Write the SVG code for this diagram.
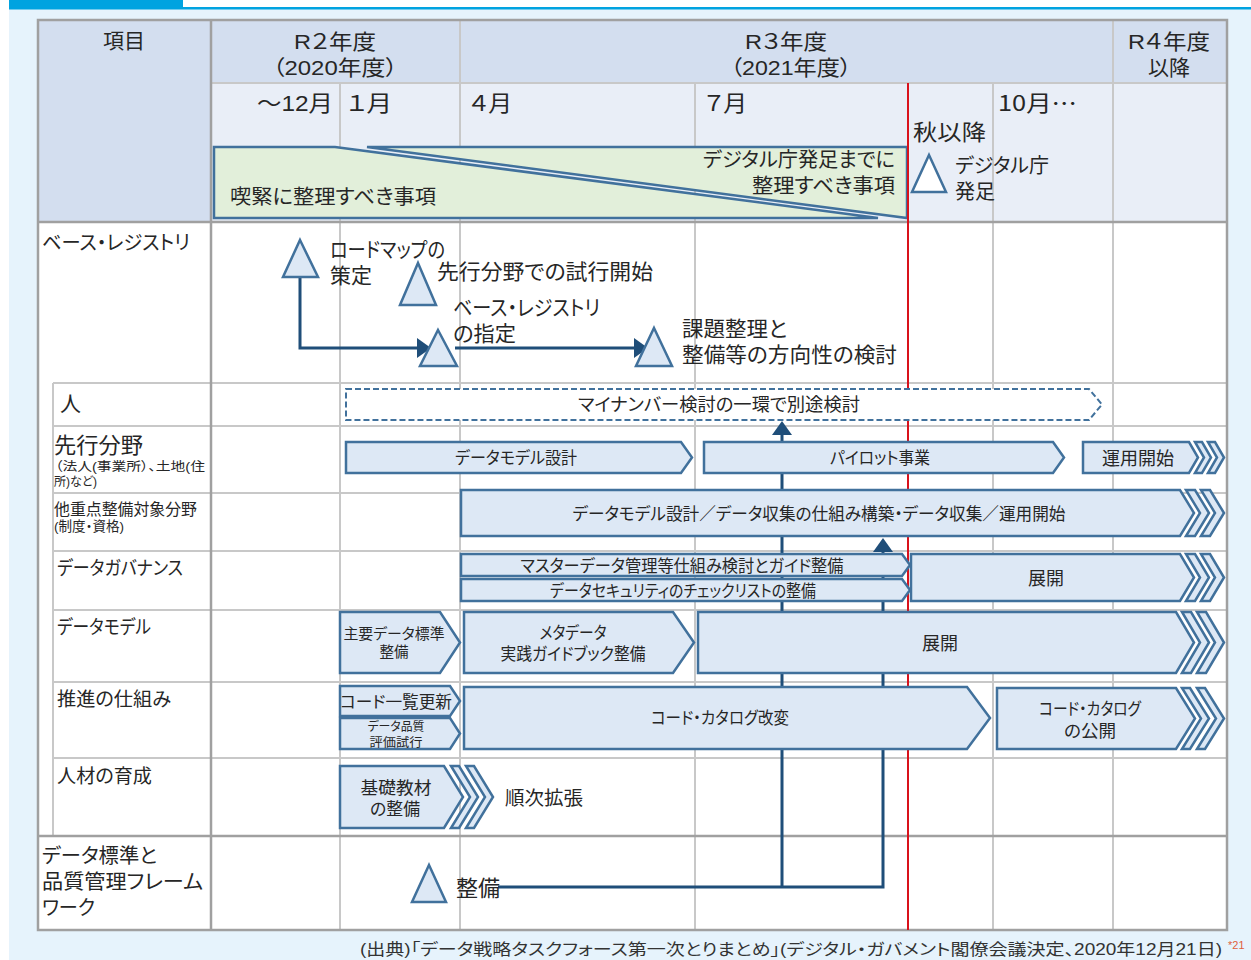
<svg xmlns="http://www.w3.org/2000/svg" width="1251" height="960" viewBox="0 0 1251 960">
<defs>
<style>
text{font-family:"Liberation Sans","Noto Sans CJK JP",sans-serif;fill:#262626;dominant-baseline:central;font-feature-settings:"palt";transform:translateY(0.6px);}
text.cj{font-family:"Noto Sans CJK JP",sans-serif;transform:translateY(-2.5px);}
.m{text-anchor:middle}
.e{text-anchor:end}
.box{fill:#dde8f5;stroke:#41719c;stroke-width:2.5;stroke-linejoin:miter}
.tri{fill:#dde8f5;stroke:#41719c;stroke-width:2.5}
.gl{stroke:#c8c8c8;stroke-width:2;fill:none}
.gd{stroke:#a0a0a0;stroke-width:2.5;fill:none}
.con{stroke:#1f4e79;stroke-width:3;fill:none}
</style>
<marker id="ah" viewBox="0 0 14 20" refX="0" refY="10" markerWidth="14" markerHeight="20" markerUnits="userSpaceOnUse" orient="auto">
<path d="M0,0 L14,10 L0,20 z" fill="#1f4e79"/>
</marker>
</defs>

<!-- page background -->
<rect x="0" y="0" width="1251" height="960" fill="#ffffff"/>
<rect x="9" y="9" width="1242" height="951" fill="#e6f3fc"/>
<rect x="9" y="0" width="174" height="8" fill="#00a3e0"/>
<rect x="9" y="7" width="1242" height="2.5" fill="#00a3e0"/>

<!-- table fills and grid -->
<g id="table">
<rect x="38" y="20" width="173" height="202" fill="#d3deef"/>
<rect x="211" y="20" width="1016" height="63" fill="#d3deef"/>
<rect x="211" y="83" width="1016" height="139" fill="#e9eef7"/>
<rect x="38" y="222" width="1189" height="708" fill="#ffffff"/>
<path class="gl" d="M460,20 V930 M1113,20 V930 M340,83 V930 M695,83 V930 M993,83 V930 M211,83 H1227"/>
<path class="gl" d="M53,383 H1227 M53,426 H1227 M53,493 H1227 M53,551 H1227 M53,610 H1227 M53,682 H1227 M53,758 H1227 M53,383 V836"/>
<path class="gd" d="M211,20 V930 M38,222 H1227 M38,836 H1227"/>
<rect class="gd" x="38" y="20" width="1189" height="910"/>
</g>

<!-- header texts -->
<g id="header">
<text class="m" x="124" y="40" font-size="21">項目</text>
<text class="m" font-size="21"><tspan x="335" y="40" textLength="82" lengthAdjust="spacingAndGlyphs">R２年度</tspan><tspan x="335" y="66" textLength="125" lengthAdjust="spacingAndGlyphs">（2020年度）</tspan></text>
<text class="m" font-size="21"><tspan x="786" y="40" textLength="82" lengthAdjust="spacingAndGlyphs">R３年度</tspan><tspan x="791" y="66" textLength="121" lengthAdjust="spacingAndGlyphs">（2021年度）</tspan></text>
<text class="m" font-size="21"><tspan x="1169" y="40" textLength="82" lengthAdjust="spacingAndGlyphs">R４年度</tspan><tspan x="1169" y="66">以降</tspan></text>
<text class="e" x="333" y="103" font-size="22" textLength="76" lengthAdjust="spacingAndGlyphs">～12月</text>
<text x="347" y="103" font-size="22" textLength="45" lengthAdjust="spacingAndGlyphs">１月</text>
<text x="470" y="103" font-size="22" textLength="42" lengthAdjust="spacingAndGlyphs">４月</text>
<text x="705" y="103" font-size="22" textLength="42" lengthAdjust="spacingAndGlyphs">７月</text>
<text class="cj" x="998" y="103" font-size="22" textLength="79" lengthAdjust="spacingAndGlyphs">10月…</text>
<text x="913" y="132" font-size="22" textLength="73" lengthAdjust="spacingAndGlyphs">秋以降</text>
</g>

<!-- green bands -->
<g id="band-urgent">
<polygon points="214,147 335,147 878,218 214,218" fill="#e2efda" stroke="#41719c" stroke-width="2.5"/>
<text x="230" y="196" font-size="20" textLength="206" lengthAdjust="spacingAndGlyphs">喫緊に整理すべき事項</text>
</g>
<g id="band-digital">
<polygon points="367,147 907,147 907,218" fill="#e2efda" stroke="#41719c" stroke-width="2.5"/>
<text class="e" font-size="20"><tspan x="895" y="159" textLength="192" lengthAdjust="spacingAndGlyphs">デジタル庁発足までに</tspan><tspan x="895" y="185" textLength="143" lengthAdjust="spacingAndGlyphs">整理すべき事項</tspan></text>
</g>

<!-- red line -->
<line x1="908" y1="83" x2="908" y2="930" stroke="#d9121b" stroke-width="2"/>

<g id="ms-digital-agency">
<polygon points="929,155 946,192 912,192" fill="#ffffff" stroke="#41719c" stroke-width="2.5"/>
<text font-size="20"><tspan x="955" y="165" textLength="94" lengthAdjust="spacingAndGlyphs">デジタル庁</tspan><tspan x="955" y="191">発足</tspan></text>
</g>

<!-- row labels -->
<g id="labels">
<text x="42" y="242" font-size="20" textLength="148" lengthAdjust="spacingAndGlyphs">ベース・レジストリ</text>
<text x="60" y="403" font-size="21">人</text>
<text><tspan x="54" y="444" font-size="22" textLength="89" lengthAdjust="spacingAndGlyphs">先行分野</tspan><tspan x="55" y="466" font-size="12.5" textLength="150" lengthAdjust="spacingAndGlyphs">（法人(事業所）、土地(住</tspan><tspan x="54" y="481" font-size="12.5" textLength="43" lengthAdjust="spacingAndGlyphs">所)など)</tspan></text>
<text><tspan x="54" y="508" font-size="16" textLength="143" lengthAdjust="spacingAndGlyphs">他重点整備対象分野</tspan><tspan x="54" y="525" font-size="13.5" textLength="70" lengthAdjust="spacingAndGlyphs">(制度・資格)</tspan></text>
<text x="57" y="568" font-size="19" textLength="126" lengthAdjust="spacingAndGlyphs">データガバナンス</text>
<text x="57" y="627" font-size="19" textLength="94" lengthAdjust="spacingAndGlyphs">データモデル</text>
<text x="57" y="699" font-size="19" textLength="114" lengthAdjust="spacingAndGlyphs">推進の仕組み</text>
<text x="57" y="776" font-size="19" textLength="95" lengthAdjust="spacingAndGlyphs">人材の育成</text>
<text font-size="20"><tspan x="42" y="855" textLength="115" lengthAdjust="spacingAndGlyphs">データ標準と</tspan><tspan x="42" y="881" textLength="161" lengthAdjust="spacingAndGlyphs">品質管理フレーム</tspan><tspan x="42" y="907" textLength="53" lengthAdjust="spacingAndGlyphs">ワーク</tspan></text>
</g>

<!-- connectors -->
<g id="connectors">
<path class="con" d="M300,277 V348 H417" marker-end="url(#ah)"/>
<path class="con" d="M455,348 H634" marker-end="url(#ah)"/>
<path class="con" d="M498,887 H883 V552" stroke-width="3.5" marker-end="url(#ah)"/>
<path class="con" d="M782,887 V435" stroke-width="3.5" marker-end="url(#ah)"/>
</g>

<!-- milestones -->
<g id="ms-roadmap">
<polygon class="tri" points="300,240 318,277 283,277"/>
<text font-size="21"><tspan x="330" y="248" textLength="115" lengthAdjust="spacingAndGlyphs">ロードマップの</tspan><tspan x="330" y="274">策定</tspan></text>
</g>
<g id="ms-trial">
<polygon class="tri" points="418,263 436,305 400,305"/>
<text x="437" y="271" font-size="21" textLength="216" lengthAdjust="spacingAndGlyphs">先行分野での試行開始</text>
</g>
<g id="ms-designation">
<polygon class="tri" points="438,330 457,366 420,366"/>
<text font-size="21"><tspan x="453" y="306" textLength="147" lengthAdjust="spacingAndGlyphs">ベース・レジストリ</tspan><tspan x="453" y="332" textLength="63" lengthAdjust="spacingAndGlyphs">の指定</tspan></text>
</g>
<g id="ms-issues">
<polygon class="tri" points="654,328 672,366 636,366"/>
<text font-size="21"><tspan x="682" y="327" textLength="105" lengthAdjust="spacingAndGlyphs">課題整理と</tspan><tspan x="682" y="353" textLength="215" lengthAdjust="spacingAndGlyphs">整備等の方向性の検討</tspan></text>
</g>
<g id="ms-framework">
<polygon class="tri" points="429,865 446,902 412,902"/>
<text x="456" y="888" font-size="22" textLength="44" lengthAdjust="spacingAndGlyphs">整備</text>
</g>

<!-- 人 -->
<g id="bar-mynumber">
<polygon points="346,389 1089,389 1102,404.5 1089,420 346,420" fill="#ffffff" stroke="#41719c" stroke-width="2" stroke-dasharray="6 3"/>
<text class="m" x="719" y="404" font-size="18" textLength="282" lengthAdjust="spacingAndGlyphs">マイナンバー検討の一環で別途検討</text>
</g>

<!-- 先行分野 -->
<g id="bar-dm-design">
<polygon class="box" points="346,442 681,442 692,457.5 681,473 346,473"/>
<text class="m" x="516" y="458" font-size="17" textLength="122" lengthAdjust="spacingAndGlyphs">データモデル設計</text>
</g>
<g id="bar-pilot">
<polygon class="box" points="704,442 1053,442 1064,457.5 1053,473 704,473"/>
<text class="m" x="880" y="458" font-size="17" textLength="100" lengthAdjust="spacingAndGlyphs">パイロット事業</text>
</g>
<g id="bar-operation">
<polygon class="box" points="1083,442 1189,442 1198,457.5 1189,473 1083,473"/>
<polygon class="box" points="1195,442 1202,442 1211,457.5 1202,473 1195,473 1204,457.5"/>
<polygon class="box" points="1208,442 1215,442 1224,457.5 1215,473 1208,473 1217,457.5"/>
<text class="m" x="1138" y="458" font-size="18" textLength="72" lengthAdjust="spacingAndGlyphs">運用開始</text>
</g>

<!-- 他重点 -->
<g id="bar-other-fields">
<polygon class="box" points="461,490 1180,490 1194,513 1180,536 461,536"/>
<polygon class="box" points="1186,490 1195,490 1209,513 1195,536 1186,536 1200,513"/>
<polygon class="box" points="1201,490 1210,490 1224,513 1210,536 1201,536 1215,513"/>
<text class="m" x="819" y="513" font-size="17.5" textLength="493" lengthAdjust="spacingAndGlyphs">データモデル設計／データ収集の仕組み構築・データ収集／運用開始</text>
</g>

<!-- データガバナンス -->
<g id="bar-master">
<polygon class="box" points="461,554 902,554 910,565 902,576 461,576"/>
<text class="m" x="682" y="565" font-size="16.5" textLength="323" lengthAdjust="spacingAndGlyphs">マスターデータ管理等仕組み検討とガイド整備</text>
</g>
<g id="bar-security">
<polygon class="box" points="461,579 902,579 910,590 902,601 461,601"/>
<text class="m" x="683" y="590" font-size="16.5" textLength="266" lengthAdjust="spacingAndGlyphs">データセキュリティのチェックリストの整備</text>
</g>
<g id="bar-gov-deploy">
<polygon class="box" points="911,554 1180,554 1194,577.5 1180,601 911,601"/>
<polygon class="box" points="1186,554 1195,554 1209,577.5 1195,601 1186,601 1200,577.5"/>
<polygon class="box" points="1201,554 1210,554 1224,577.5 1210,601 1201,601 1215,577.5"/>
<text class="m" x="1046" y="578" font-size="18">展開</text>
</g>

<!-- データモデル -->
<g id="bar-core-data">
<polygon class="box" points="340,612 440,612 460,642.5 440,673 340,673"/>
<text class="m" font-size="14.5"><tspan x="394" y="633" textLength="101" lengthAdjust="spacingAndGlyphs">主要データ標準</tspan><tspan x="394" y="651">整備</tspan></text>
</g>
<g id="bar-metadata">
<polygon class="box" points="464,612 673,612 694,642.5 673,673 464,673"/>
<text class="m" font-size="17"><tspan x="573" y="632" textLength="67" lengthAdjust="spacingAndGlyphs">メタデータ</tspan><tspan x="573" y="653" textLength="145" lengthAdjust="spacingAndGlyphs">実践ガイドブック整備</tspan></text>
</g>
<g id="bar-dm-deploy">
<polygon class="box" points="698,612 1176,612 1194,642.5 1176,673 698,673"/>
<polygon class="box" points="1182,612 1191,612 1209,642.5 1191,673 1182,673 1200,642.5"/>
<polygon class="box" points="1197,612 1206,612 1224,642.5 1206,673 1197,673 1215,642.5"/>
<text class="m" x="940" y="643" font-size="18">展開</text>
</g>

<!-- 推進の仕組み -->
<g id="bar-code-list">
<polygon class="box" points="340,686 450,686 460,701 450,716 340,716"/>
<text class="m" x="396" y="701" font-size="16.5" textLength="112" lengthAdjust="spacingAndGlyphs">コード一覧更新</text>
</g>
<g id="bar-quality">
<polygon class="box" points="340,718 450,718 460,733.5 450,749 340,749"/>
<text class="m" font-size="12.5"><tspan x="396" y="726" textLength="57" lengthAdjust="spacingAndGlyphs">データ品質</tspan><tspan x="396" y="742" textLength="53" lengthAdjust="spacingAndGlyphs">評価試行</tspan></text>
</g>
<g id="bar-catalog-revise">
<polygon class="box" points="464,687 967,687 990,718 967,749 464,749"/>
<text class="m" x="720" y="718" font-size="17" textLength="138" lengthAdjust="spacingAndGlyphs">コード・カタログ改変</text>
</g>
<g id="bar-catalog-publish">
<polygon class="box" points="997,688 1176,688 1195,718.5 1176,749 997,749"/>
<polygon class="box" points="1182,688 1190,688 1209,718.5 1190,749 1182,749 1201,718.5"/>
<polygon class="box" points="1197,688 1205,688 1224,718.5 1205,749 1197,749 1216,718.5"/>
<text class="m" font-size="17"><tspan x="1090" y="708" textLength="102" lengthAdjust="spacingAndGlyphs">コード・カタログ</tspan><tspan x="1090" y="730" textLength="52" lengthAdjust="spacingAndGlyphs">の公開</tspan></text>
</g>

<!-- 人材の育成 -->
<g id="bar-training">
<polygon class="box" points="340,766 444,766 463,797 444,828 340,828"/>
<polygon class="box" points="451,766 459,766 478,797 459,828 451,828 470,797"/>
<polygon class="box" points="466,766 474,766 493,797 474,828 466,828 485,797"/>
<text class="m" font-size="17.5"><tspan x="396" y="787" textLength="71" lengthAdjust="spacingAndGlyphs">基礎教材</tspan><tspan x="395" y="808" textLength="50" lengthAdjust="spacingAndGlyphs">の整備</tspan></text>
<text x="505" y="797" font-size="19.5" textLength="78" lengthAdjust="spacingAndGlyphs">順次拡張</text>
</g>

<!-- footer -->
<g id="footer">
<text class="e" x="1222" y="949" font-size="16" style="fill:#333" textLength="862" lengthAdjust="spacingAndGlyphs">(出典)「データ戦略タスクフォース第一次とりまとめ」(デジタル・ガバメント閣僚会議決定、2020年12月21日)</text>
<text x="1228" y="944" font-size="11" style="fill:#e0603c">*21</text>
</g>
</svg>
